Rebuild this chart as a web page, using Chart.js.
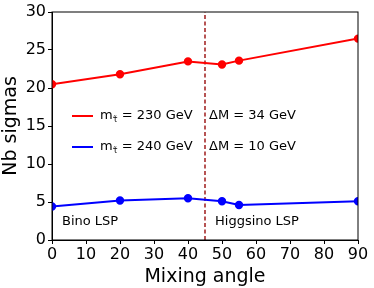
<!DOCTYPE html>
<html lang="en">
<head>
    <meta charset="UTF-8" />
    <title>Nb sigmas vs mixing angle</title>
    <script src="https://cdn.jsdelivr.net/npm/chart.js"></script>
    <style>
        body { margin: 0; background: #fff; }
        #wrap { width: 374px; height: 288px; }
    </style>
</head>
<body>
    <div id="wrap"><canvas id="sigChart"></canvas></div>

    <script>
        const mixingAngles = [0, 20, 40, 50, 55, 90];
        const sigmas230 = [20.5, 21.8, 23.5, 23.1, 23.6, 26.5];
        const sigmas240 = [4.4, 5.2, 5.5, 5.1, 4.6, 5.1];
        const dividerAngle = 45;
        const xTicks = [0, 10, 20, 30, 40, 50, 60, 70, 80, 90];
        const yTicks = [0, 5, 10, 15, 20, 25, 30];
        const legendRows = [
            { color: 'red', mass: '230 GeV', dm: 'ΔM = 34 GeV' },
            { color: 'blue', mass: '240 GeV', dm: 'ΔM = 10 GeV' }
        ];

        const FONT = "'DejaVu Sans', sans-serif";

        function toPoints(xs, ys) {
            return xs.map((x, i) => ({ x: x, y: ys[i] }));
        }

        // box round the plot area, legend and the two region labels
        const annotations = {
            id: 'annotations',
            afterDatasetsDraw(chart) {
                const c = chart.ctx;
                const a = chart.chartArea;
                c.save();
                c.strokeStyle = '#000';
                c.lineWidth = 1;
                c.strokeRect(a.left, a.top, a.right - a.left, a.bottom - a.top);

                c.fillStyle = '#000';
                c.textBaseline = 'middle';
                legendRows.forEach((row, i) => {
                    const y = 116 + i * 31;
                    c.strokeStyle = row.color;
                    c.lineWidth = 2;
                    c.beginPath();
                    c.moveTo(72, y);
                    c.lineTo(93, y);
                    c.stroke();
                    c.font = '13px ' + FONT;
                    c.fillText('m', 100, y);
                    const mw = c.measureText('m').width;
                    c.font = '8px ' + FONT;
                    c.fillText('τ̃', 100 + mw, y + 4);
                    c.font = '13px ' + FONT;
                    c.fillText('= ' + row.mass, 100 + mw + 9, y);
                    c.fillText(row.dm, 209, y);
                });

                c.font = '13px ' + FONT;
                c.fillText('Bino LSP', 62, 222);
                c.fillText('Higgsino LSP', 215, 222);
                c.restore();
            }
        };

        const ctx = document.getElementById('sigChart').getContext('2d');
        new Chart(ctx, {
            type: 'line',
            data: {
                datasets: [{
                    label: 'm = 230 GeV',
                    data: toPoints(mixingAngles, sigmas230),
                    borderColor: 'red',
                    backgroundColor: 'red',
                    borderWidth: 2,
                    pointRadius: 3.2,
                    pointHoverRadius: 3.2
                }, {
                    label: 'm = 240 GeV',
                    data: toPoints(mixingAngles, sigmas240),
                    borderColor: 'blue',
                    backgroundColor: 'blue',
                    borderWidth: 2,
                    pointRadius: 3.2,
                    pointHoverRadius: 3.2
                }, {
                    label: 'divider',
                    data: toPoints([dividerAngle, dividerAngle], [0, 30]),
                    borderColor: '#a52a2a',
                    borderWidth: 1.6,
                    borderDash: [4, 2.5],
                    pointRadius: 0
                }]
            },
            options: {
                responsive: true,
                maintainAspectRatio: false,
                animation: false,
                layout: { padding: { top: 12, right: 16, left: 0, bottom: 0 } },
                plugins: {
                    legend: { display: false },
                    tooltip: { enabled: false }
                },
                scales: {
                    x: {
                        type: 'linear',
                        min: 0,
                        max: 90,
                        afterBuildTicks: axis => { axis.ticks = xTicks.map(v => ({ value: v })); },
                        afterFit: axis => { axis.height = 48; },
                        grid: { drawOnChartArea: false, drawTicks: true, tickLength: 4, color: '#000' },
                        border: { color: '#000' },
                        ticks: { color: '#000', font: { family: FONT, size: 16 }, padding: 1, maxRotation: 0, autoSkip: false },
                        title: { display: true, text: 'Mixing angle', color: '#000', font: { family: FONT, size: 19 }, padding: { top: -2, bottom: 0 } }
                    },
                    y: {
                        min: 0,
                        max: 30,
                        afterBuildTicks: axis => { axis.ticks = yTicks.map(v => ({ value: v })); },
                        afterFit: axis => { axis.width = 52; },
                        grid: { drawOnChartArea: false, drawTicks: true, tickLength: 4, color: '#000' },
                        border: { color: '#000' },
                        ticks: { color: '#000', font: { family: FONT, size: 16 }, padding: 2 },
                        title: { display: true, text: 'Nb sigmas', color: '#000', font: { family: FONT, size: 19 }, padding: { top: 0, bottom: 0 } }
                    }
                }
            },
            plugins: [annotations]
        });
    </script>
</body>
</html>
